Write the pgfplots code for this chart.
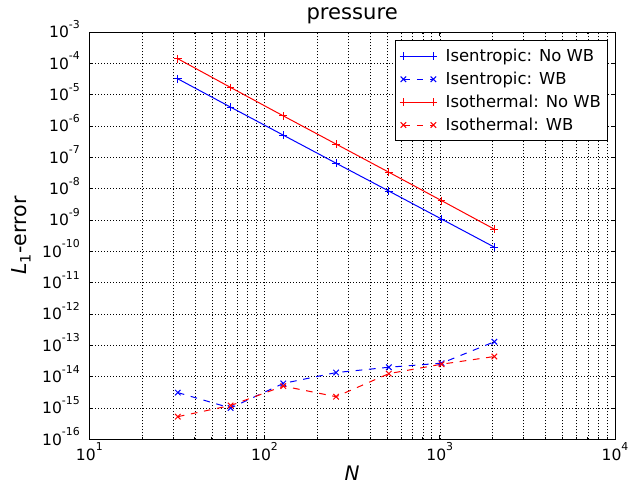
\documentclass[border=0pt]{standalone}
\usepackage{fontspec}
\setmainfont{DejaVu Sans}
\usepackage{pgfplots}
\pgfplotsset{compat=1.18}

% tick label: 10 with a raised exponent, as matplotlib sets it
\newcommand\tl[1]{10\raisebox{8.4pt}{\fontsize{9.8}{9.8}\selectfont#1}}

\begin{document}
\begin{tikzpicture}
\begin{axis}[
  scale only axis,
  width=473.1pt, height=366.6pt,
  xmode=log, ymode=log,
  xmin=10, xmax=10000,
  ymin=1e-16, ymax=1e-3,
  axis line style={line width=0.9pt},
  tick align=inside,
  major tick length=3.6pt, minor tick length=1.8pt,
  every tick/.style={black, line width=0.7pt},
  xtick={10,100,1000,10000},
  xticklabels={\tl{1},\tl{2},\tl{3},\tl{4}},
  minor xtick={20,30,40,50,60,70,80,90,200,300,400,500,600,700,800,900,2000,3000,4000,5000,6000,7000,8000,9000},
  ytick={1e-16,1e-15,1e-14,1e-13,1e-12,1e-11,1e-10,1e-9,1e-8,1e-7,1e-6,1e-5,1e-4,1e-3},
  yticklabels={\tl{-16},\tl{-15},\tl{-14},\tl{-13},\tl{-12},\tl{-11},\tl{-10},\tl{-9},\tl{-8},\tl{-7},\tl{-6},\tl{-5},\tl{-4},\tl{-3}},
  yminorticks=false,
  xminorgrids=true, xmajorgrids=true, ymajorgrids=true, yminorgrids=false,
  major grid style={black, line width=0.5pt, dash pattern=on 0.9pt off 1.8pt},
  minor grid style={black, line width=0.5pt, dash pattern=on 0.9pt off 1.8pt},
  ticklabel style={font=\fontsize{14}{16}\selectfont, inner sep=0pt},
  xticklabel style={anchor=base, yshift=-18.6pt},
  yticklabel style={anchor=base east, xshift=-8.4pt, yshift=-5.1pt},
  title={pressure},
  title style={font=\fontsize{19}{21}\selectfont, at={(axis description cs:0.5,1)}, anchor=base, yshift=5.4pt, inner sep=0pt},
  xlabel={\textit{N}},
  xlabel style={font=\fontsize{18}{20}\selectfont, at={(axis description cs:0.5,-0.1)}, anchor=base, inner sep=0pt},
  ylabel={\textit{L}\textsubscript{1}-error},
  ylabel style={font=\fontsize{18.5}{20}\selectfont, at={(axis description cs:-0.119,0.5)}, anchor=base, inner sep=0pt},
  legend image code/.code={\draw[mark repeat=1,mark phase=1,#1] plot coordinates {(0pt,0pt) (27pt,0pt)};
    \path[draw=none, fill=none] (36pt,-10.3pt) -- (36pt,10.3pt);},
  legend style={at={(rel axis cs:1,1)}, anchor=north east, xshift=-6.3pt, yshift=-7.2pt,
    draw=black, line width=0.8pt, font=\fontsize{14.8}{17}\selectfont,
    inner xsep=4pt, inner ysep=4pt, row sep=0pt, cells={anchor=west}},
  every axis plot/.append style={line width=0.9pt, mark size=3.5pt},
]
\addplot[blue, draw=blue, mark=+, mark options={solid, draw=blue}] coordinates {
  (32,3.2e-5) (64,4.0e-6) (128,5.1e-7) (256,6.5e-8) (512,8.4e-9) (1024,1.07e-9) (2048,1.36e-10)};
\addplot[blue, draw=blue, mark=x, dash pattern=on 6pt off 6pt, mark options={solid, draw=blue}] coordinates {
  (32,3.1e-15) (64,1.0e-15) (128,6.1e-15) (256,1.35e-14) (512,2.0e-14) (1024,2.7e-14) (2048,1.3e-13)};
\addplot[red, draw=red, mark=+, mark options={solid, draw=red}] coordinates {
  (32,1.4e-4) (64,1.7e-5) (128,2.1e-6) (256,2.65e-7) (512,3.35e-8) (1024,4.15e-9) (2048,5.1e-10)};
\addplot[red, draw=red, mark=x, dash pattern=on 6pt off 6pt, mark options={solid, draw=red}] coordinates {
  (32,5.3e-16) (64,1.2e-15) (128,5.0e-15) (256,2.3e-15) (512,1.25e-14) (1024,2.5e-14) (2048,4.4e-14)};
\legend{Isentropic: No WB, Isentropic: WB, Isothermal: No WB, Isothermal: WB}
\end{axis}
\pgfresetboundingbox
\path[use as bounding box] (-80.4pt,-41.1pt) rectangle (489.3pt,395.4pt);
\end{tikzpicture}
\end{document}
